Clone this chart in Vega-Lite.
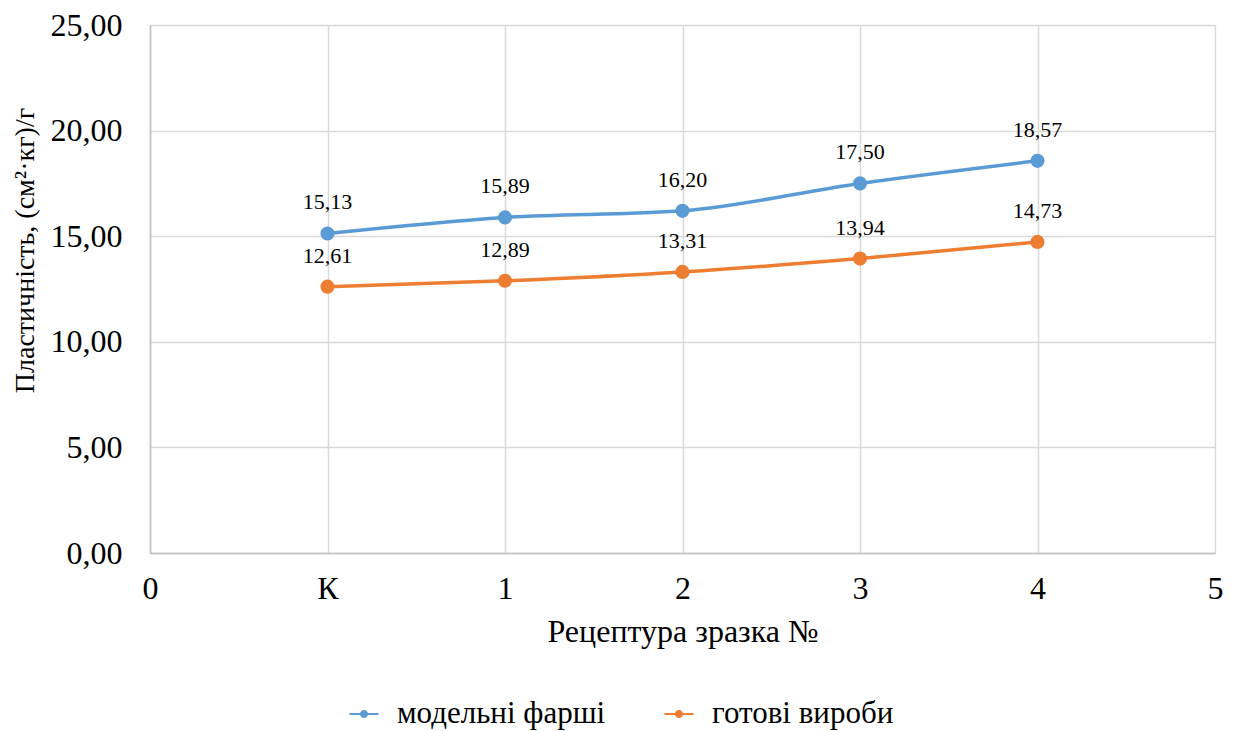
{
  "$schema": "https://vega.github.io/schema/vega-lite/v6.json",
  "autosize": "none",
  "width": 1065,
  "height": 528,
  "padding": {"left": 150, "top": 25, "right": 24, "bottom": 178},
  "background": "white",
  "config": {"font": "Liberation Serif", "view": {"stroke": null}},
  "data": {"values": [
    {"x": 1, "series": "модельні фарші", "value": 15.13},
    {"x": 2, "series": "модельні фарші", "value": 15.89},
    {"x": 3, "series": "модельні фарші", "value": 16.20},
    {"x": 4, "series": "модельні фарші", "value": 17.50},
    {"x": 5, "series": "модельні фарші", "value": 18.57},
    {"x": 1, "series": "готові вироби", "value": 12.61},
    {"x": 2, "series": "готові вироби", "value": 12.89},
    {"x": 3, "series": "готові вироби", "value": 13.31},
    {"x": 4, "series": "готові вироби", "value": 13.94},
    {"x": 5, "series": "готові вироби", "value": 14.73}
  ]},
  "encoding": {
    "x": {
      "field": "x", "type": "quantitative",
      "scale": {"domain": [0, 6], "nice": false, "zero": false},
      "axis": {
        "values": [0, 1, 2, 3, 4, 5, 6],
        "labelExpr": "datum.value == 0 ? '0' : (datum.value == 1 ? 'К' : toString(datum.value - 1))",
        "title": "Рецептура зразка №",
        "grid": true, "gridColor": "#d9d9d9", "gridWidth": 1.5,
        "ticks": false, "domainColor": "#bfbfbf", "domainWidth": 1.5,
        "labelFont": "Liberation Serif", "labelFontSize": 32, "labelColor": "#000000",
        "labelPadding": 20, "labelFlush": false,
        "titleFont": "Liberation Serif", "titleFontSize": 32, "titleFontWeight": "normal", "titleColor": "#000000",
        "titlePadding": 12
      }
    },
    "y": {
      "field": "value", "type": "quantitative",
      "scale": {"domain": [0, 25], "nice": false},
      "axis": {
        "values": [0, 5, 10, 15, 20, 25],
        "labelExpr": "replace(format(datum.value, '.2f'), '.', ',')",
        "title": "Пластичність,  (см²·кг)/г",
        "grid": true, "gridColor": "#d9d9d9", "gridWidth": 1.5,
        "ticks": false, "domainColor": "#bfbfbf", "domainWidth": 1.5,
        "labelFont": "Liberation Serif", "labelFontSize": 32, "labelColor": "#000000",
        "labelPadding": 28,
        "titleFont": "Liberation Serif", "titleFontSize": 28, "titleFontWeight": "normal", "titleColor": "#000000",
        "titleX": -125, "titleY": 225, "titleBaseline": "middle"
      }
    },
    "color": {
      "field": "series", "type": "nominal",
      "scale": {"domain": ["модельні фарші", "готові вироби"], "range": ["#5b9bd5", "#ed7d31"]},
      "legend": {
        "title": null,
        "orient": "none",
        "legendX": 185,
        "legendY": 660,
        "direction": "horizontal",
        "symbolType": "M-0.5,-0.032L0.5,-0.032L0.5,0.032L-0.5,0.032Z M0.14,0A0.14,0.14 0 1,1 -0.14,0A0.14,0.14 0 1,1 0.14,0Z",
        "symbolSize": 3364,
        "symbolStrokeWidth": 0,
        "labelFont": "Liberation Serif", "labelFontSize": 31, "labelColor": "#000000",
        "labelOffset": 4, "labelLimit": 400,
        "columnPadding": 44,
        "encode": {
          "symbols": {
            "update": {
              "shape": {"value": "M-0.5,-0.032L0.5,-0.032L0.5,0.032L-0.5,0.032Z M0.14,0A0.14,0.14 0 1,1 -0.14,0A0.14,0.14 0 1,1 0.14,0Z"},
              "size": {"value": 3364},
              "strokeWidth": {"value": 0},
              "opacity": {"value": 1},
              "fillOpacity": {"value": 1}
            }
          }
        }
      }
    }
  },
  "layer": [
    {
      "mark": {"type": "line", "interpolate": "monotone", "strokeWidth": 3.5}
    },
    {
      "mark": {"type": "point", "filled": true, "size": 200, "opacity": 1}
    },
    {
      "mark": {"type": "text", "font": "Liberation Serif", "fontSize": 22, "dy": -31, "baseline": "middle", "color": "#000000",
        "text": {"expr": "replace(format(datum.value, '.2f'), '.', ',')"}},
      "encoding": {"color": {"value": "#000000"}}
    }
  ]
}
